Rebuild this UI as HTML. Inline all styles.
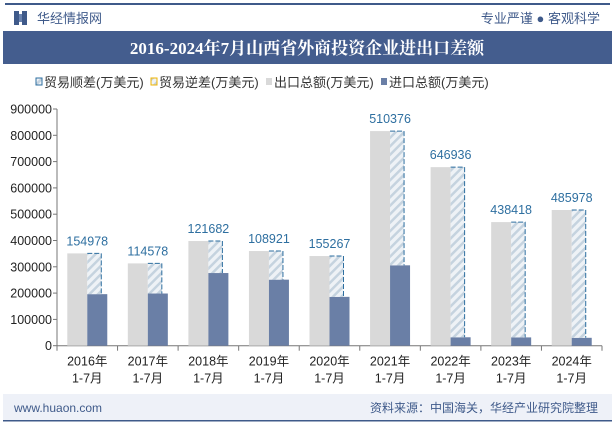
<!DOCTYPE html>
<html><head><meta charset="utf-8">
<style>
body{margin:0;width:615px;height:427px;overflow:hidden;background:#fff;font-family:"Liberation Sans","Noto Sans CJK SC",sans-serif;}
svg{display:block}
</style></head>
<body>
<svg id="chart" width="615" height="427" xmlns="http://www.w3.org/2000/svg">
<defs>
<pattern id="hatch" width="6" height="6" patternUnits="userSpaceOnUse" patternTransform="rotate(45)">
<rect width="6" height="6" fill="#eef2f6"/>
<rect width="2.5" height="6" fill="#c5d3df"/>
</pattern>
</defs>
<rect x="0" y="0" width="615" height="427" fill="#fff"/>
<rect x="5" y="3" width="605" height="2" fill="#3f5a8a"/>
<rect x="14" y="11" width="5" height="14" fill="#3f5a8a"/>
<rect x="22" y="11" width="5" height="14" fill="#3f5a8a"/>
<polygon points="19,14 22,14 22,22 19,22" fill="#6b84b0"/>
<text x="37" y="23" font-size="13" fill="#3f5a8a">华经情报网</text>
<text x="600" y="23" font-size="13" fill="#3f5a8a" text-anchor="end">专业严谨 ● 客观科学</text>
<rect x="3" y="31" width="609" height="33" fill="#445d8e"/>
<text x="307" y="54" font-size="17" font-weight="bold" fill="#fff" text-anchor="middle" font-family="'Liberation Serif','Noto Serif CJK SC',serif">2016-2024年7月山西省外商投资企业进出口差额</text>
<g id="legend" font-size="13" fill="#333">
<g><rect x="36" y="78" width="6" height="7" fill="url(#hatch)" stroke="#2e6fa0" stroke-width="1"/><text x="44" y="87">贸易顺差(万美元)</text></g>
<g><rect x="151" y="78" width="6" height="7" fill="url(#hatch)" stroke="#f0b400" stroke-width="1"/><text x="159" y="87">贸易逆差(万美元)</text></g>
<g><rect x="266" y="78" width="6" height="7" fill="#d9d9d9"/><text x="274" y="87">出口总额(万美元)</text></g>
<g><rect x="381" y="78" width="6" height="7" fill="#6a7fa6"/><text x="389" y="87">进口总额(万美元)</text></g>
</g>
<g id="axes"></g>
<g id="bars"></g>
<rect x="3" y="394" width="609" height="26" fill="#eef1f8"/>
<rect x="3" y="420" width="609" height="1.5" fill="#3f5a8a"/>
<text x="14" y="412" font-size="12" fill="#3f5a8a">www.huaon.com</text>
<text x="598" y="412" font-size="12" fill="#3f5a8a" text-anchor="end">资料来源：中国海关，华经产业研究院整理</text>
</svg>
<script>
const years = ["2016年","2017年","2018年","2019年","2020年","2021年","2022年","2023年","2024年"];
const exportsV = [351000,313000,398000,360000,341000,816000,679000,470000,516000];
const importsV = [196022,198422,276318,251079,185733,305624,32064,31582,30022];
const surplus = [154978,114578,121682,108921,155267,510376,646936,438418,485978];
const yTicks = [0,100000,200000,300000,400000,500000,600000,700000,800000,900000];

const NS="http://www.w3.org/2000/svg";
const x0=57,x1=602,yBase=345.7,yTop=109,yMax=900000;
const cw=(x1-x0)/years.length;
const y=v=>yBase-(v/yMax)*(yBase-yTop);
const cx=i=>x0+cw*(i+0.5);
function mk(tag,attrs,parent){const e=document.createElementNS(NS,tag);for(const k in attrs)e.setAttribute(k,attrs[k]);parent.appendChild(e);return e;}
const ax=document.getElementById('axes'),bg=document.getElementById('bars');
const yl=mk('line',{x1:x0,y1:yTop,x2:x0,y2:yBase,stroke:'#777','stroke-width':1},ax);


yTicks.forEach(t=>{
 mk('line',{x1:x0-4,y1:y(t),x2:x0,y2:y(t),stroke:'#777'},ax);
 const tx=mk('text',{x:x0-5,y:y(t)+4.5,'font-size':12.5,'text-anchor':'end',fill:'#222'},ax);
 tx.textContent=t;
 
 
});
const xl=mk('line',{x1:x0,y1:yBase,x2:x1,y2:yBase,stroke:'#777'},ax);


for(let i=0;i<=years.length;i++){mk('line',{x1:x0+cw*i,y1:yBase,x2:x0+cw*i,y2:yBase+5,stroke:'#777'},ax);}
years.forEach((yr,i)=>{
 const t1=mk('text',{x:cx(i),y:yBase+20,'font-size':12.5,'text-anchor':'middle',fill:'#222'},ax);
 t1.textContent=yr;
 
 
 const t2=mk('text',{x:cx(i),y:yBase+37,'font-size':12.5,'text-anchor':'middle',fill:'#222'},ax);
 t2.textContent='1-7月';
 
 
 const c=cx(i);
 const eb=mk('rect',{x:c-20,y:y(exportsV[i]),width:20,height:yBase-y(exportsV[i]),fill:'#d9d9d9'},bg);
 
 
 const ib=mk('rect',{x:c,y:y(importsV[i]),width:20,height:yBase-y(importsV[i]),fill:'#6a7fa6'},bg);
 
 
 const top=y(importsV[i]+surplus[i]),bot=y(importsV[i]);
 const hb=mk('rect',{x:c,y:top,width:14,height:bot-top,fill:'url(#hatch)'},bg);
 
 
 mk('path',{d:`M${c} ${top}H${c+14}V${bot}`,fill:'none',stroke:'#2e6fa0','stroke-width':1,'stroke-dasharray':'5,2'},bg);
 const lb=mk('text',{x:c,y:top-8,'font-size':12.5,'text-anchor':'middle',fill:'#2e6fa0'},bg);
 lb.textContent=surplus[i];
 
 
});
</script>
</body></html>
